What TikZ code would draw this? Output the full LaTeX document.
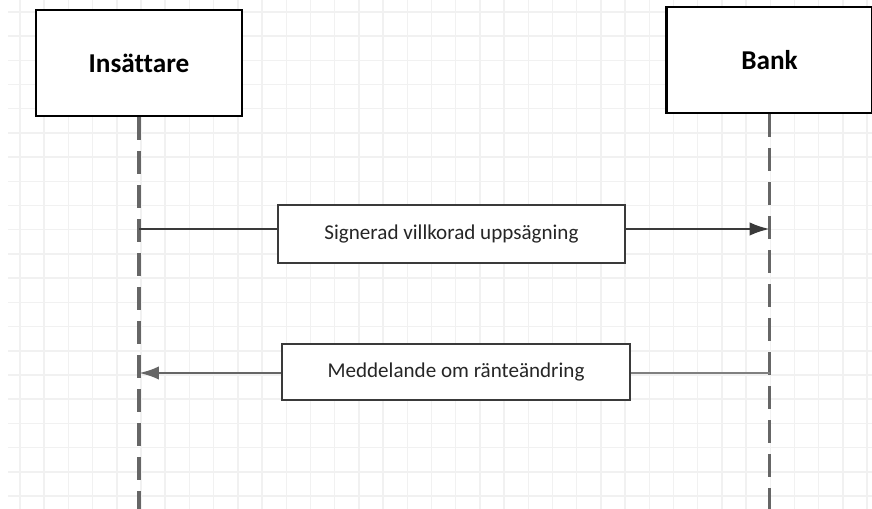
\documentclass[tikz,border=0pt]{standalone}
\usepackage{fontspec}
\setmainfont{Carlito}[Ligatures=NoCommon]
\usetikzlibrary{arrows.meta, positioning, calc}
\definecolor{gridGray}{HTML}{F1F1F1}
\definecolor{lifeGray}{HTML}{666666}
\definecolor{msgGray}{HTML}{3A3A3A}
\definecolor{textDark}{HTML}{262626}
\tikzset{
    % Participants
    actorBox/.style={rectangle, draw=black, line width=1.4pt, fill=white,
        minimum width=4.12cm, minimum height=2.12cm,
        font=\fontsize{15.5}{18}\selectfont\bfseries},
    lifeLine/.style={draw=lifeGray, line width=2.2pt, dash pattern=on 0.46cm off 0.22cm},
    % Messages
    msgBox/.style={rectangle, draw=msgGray, line width=0.7pt, fill=white,
        minimum width=6.94cm, minimum height=1.16cm,
        font=\fontsize{12}{14}\selectfont, text=textDark},
    msgLine/.style={draw=msgGray, line width=1.2pt},
    msgArrow/.style={msgLine, -{Latex[length=0.4cm, width=0.27cm]}},
    % Background
    gridLine/.style={draw=gridGray, line width=0.8pt}
}

\begin{document}
\begin{tikzpicture}[x=0.02cm, y=-0.02cm]
    % Canvas
    \fill[white] (0,0) rectangle (872,509);
    \useasboundingbox (0,0) rectangle (872,509);

    % Grid
    \foreach \gx in {0,...,35} \draw[gridLine] ({20+24.2*\gx},0) -- ({20+24.2*\gx},509);
    \foreach \gy in {0,...,20} \draw[gridLine] (8,{12+24.2*\gy}) -- (872,{12+24.2*\gy});

    % Participants
    \node[actorBox] (depositor) at (139,63) {Insättare};
    \node[actorBox] (bank) at (769.5,60) {Bank};

    % Lifelines
    \coordinate (floor) at (0,509);
    \draw[lifeLine] (depositor.south) -- (depositor.south |- floor);
    \draw[lifeLine] (bank.south) -- (bank.south |- floor);

    % Messages
    \node[msgBox] (signedNotice) at (451.5,234) {Signerad villkorad uppsägning};
    \node[msgBox, minimum width=6.96cm, minimum height=1.12cm] (rateNotice) at (456,372) {Meddelande om ränteändring};

    \coordinate (rowA) at (0,229);
    \coordinate (rowB) at (0,373);
    \draw[msgLine] (depositor.south |- rowA) -- (signedNotice.west |- rowA);
    \draw[msgArrow] (signedNotice.east |- rowA) -- (bank.south |- rowA);
    \draw[msgLine, line width=1.6pt, draw=gray] (bank.south |- rowB) -- (rateNotice.east |- rowB);
    \draw[msgArrow, line width=1.6pt, draw=gray!80!black] (rateNotice.west |- rowB) -- (depositor.south |- rowB);
\end{tikzpicture}
\end{document}
